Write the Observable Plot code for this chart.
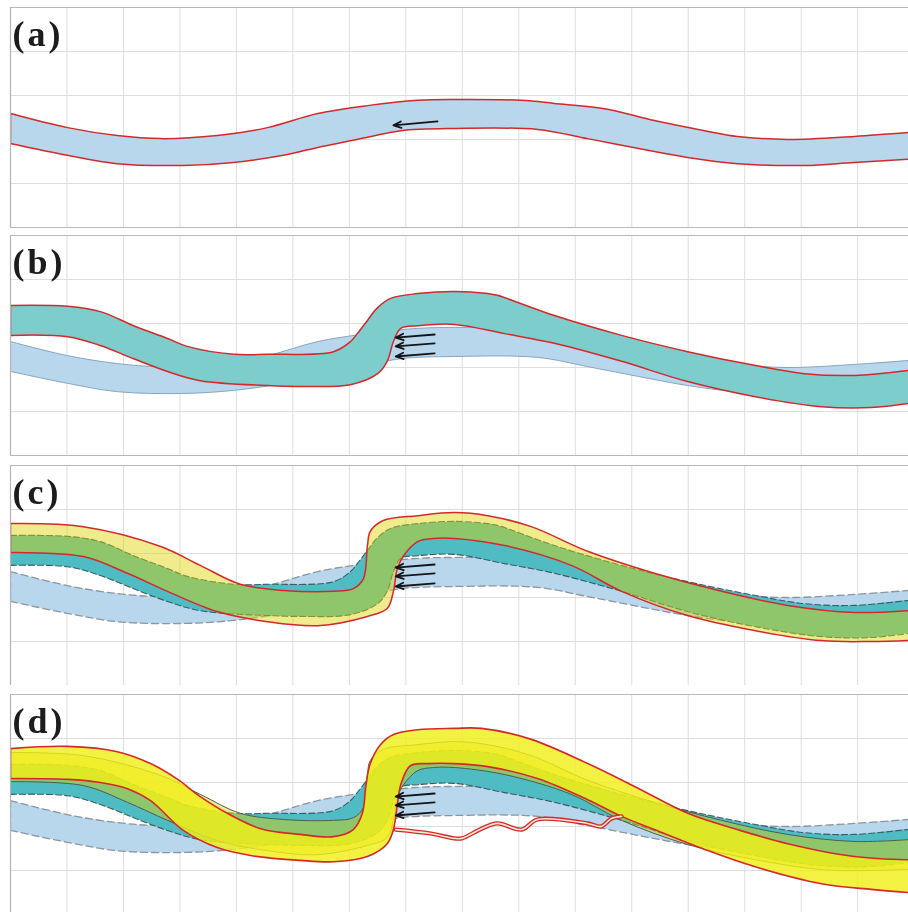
<!DOCTYPE html>
<html><head><meta charset="utf-8">
<script src="https://cdn.jsdelivr.net/npm/d3@7"></script>
<script src="https://cdn.jsdelivr.net/npm/@observablehq/plot@0.6"></script>
<style>
html,body{margin:0;padding:0;background:#fff;overflow:hidden;width:908px;height:912px}
#chart svg{display:block;max-width:none}
</style></head><body><div id="chart"></div>
<script>
// ---- data (grid units: x along channel, y downward from panel top) ----
const panelLabels = ["(a)", "(b)", "(c)", "(d)"];
const xGridTicks = [1,2,3,4,5,6,7,8,9,10,11,12,13,14,15];
const yGridTicks = [1,2,3,4];

// initial channel (a)
const bankA_top = [[0,2.41],[1.01,2.73],[1.89,2.91],[2.66,2.98],[3.66,2.91],[4.55,2.73],[5.44,2.41],[6.32,2.23],[7.21,2.11],[7.86,2.09],[9.05,2.11],[9.63,2.18],[10.52,2.30],[11.40,2.57],[12.29,2.80],[12.87,2.93],[13.76,3.00],[14.94,2.93],[16.0,2.83]];
const bankA_bottom = [[0,3.09],[1.01,3.36],[1.89,3.55],[3.06,3.59],[3.95,3.52],[4.83,3.36],[5.44,3.18],[6.32,2.95],[6.91,2.80],[7.86,2.75],[9.33,2.77],[10.22,2.98],[11.10,3.20],[11.99,3.41],[12.87,3.55],[14.06,3.59],[14.94,3.52],[16.0,3.44]];

// channel after stage (b)
const bankB_top = [[0,1.59],[1.01,1.61],[1.59,1.73],[2.18,2.05],[2.78,2.34],[3.13,2.52],[3.95,2.70],[4.55,2.70],[5.72,2.64],[6.02,2.41],[6.14,2.23],[6.32,1.93],[6.50,1.64],[6.73,1.43],[7.21,1.32],[7.86,1.27],[8.45,1.32],[8.62,1.36],[9.63,1.82],[10.82,2.27],[11.99,2.64],[13.17,2.95],[14.06,3.14],[14.94,3.18],[16.0,3.05]];
const bankB_bottom = [[0,2.27],[1.01,2.30],[1.59,2.50],[2.18,2.80],[2.78,3.09],[3.36,3.30],[4.55,3.41],[5.13,3.43],[6.02,3.39],[6.50,3.14],[6.67,2.86],[6.78,2.41],[6.91,2.11],[7.21,2.05],[7.86,2.02],[8.75,2.23],[9.63,2.45],[10.82,2.86],[11.99,3.32],[13.17,3.66],[14.36,3.89],[15.24,3.91],[16.0,3.80]];

// channel after stage (c)
const bankC_top = [[0,1.32],[1.29,1.39],[2.66,1.84],[3.36,2.27],[4.07,2.70],[4.83,2.84],[5.72,2.86],[6.07,2.80],[6.25,2.57],[6.32,1.82],[6.37,1.50],[6.60,1.25],[7.21,1.14],[7.86,1.07],[8.45,1.14],[9.22,1.39],[10.22,1.95],[11.40,2.45],[12.59,2.86],[13.76,3.18],[14.94,3.34],[16.0,3.29]];
const bankC_bottom = [[0,1.98],[1.29,2.07],[2.07,2.45],[2.78,2.86],[3.66,3.32],[4.55,3.55],[5.44,3.64],[6.32,3.43],[6.67,3.25],[6.78,2.86],[6.85,2.34],[6.96,2.05],[7.21,1.73],[7.49,1.66],[7.86,1.66],[8.75,1.82],[9.93,2.27],[10.82,2.86],[11.99,3.41],[13.17,3.75],[14.36,3.98],[15.24,4.00],[16.0,3.97]];

// channel after stage (d)
const bankD_top = [[0,1.23],[1.01,1.18],[1.89,1.30],[2.48,1.57],[2.96,1.93],[3.36,2.32],[3.84,2.70],[4.43,3.05],[5.13,3.18],[5.72,3.23],[6.07,3.07],[6.23,2.70],[6.29,2.09],[6.37,1.57],[6.55,1.14],[6.78,0.91],[7.21,0.80],[7.86,0.77],[8.34,0.77],[9.22,1.02],[10.22,1.57],[11.05,2.09],[11.99,2.70],[12.87,3.07],[13.76,3.39],[14.94,3.68],[16.0,3.76]];
const bankD_bottom = [[0,1.91],[1.01,1.93],[1.59,2.00],[2.07,2.14],[2.48,2.41],[3.06,3.09],[3.66,3.48],[4.25,3.66],[5.13,3.77],[5.72,3.80],[6.32,3.68],[6.67,3.39],[6.78,3.07],[6.85,2.50],[6.91,2.05],[7.08,1.62],[7.40,1.57],[7.86,1.57],[8.45,1.64],[9.33,1.91],[10.22,2.39],[10.82,2.77],[11.40,3.07],[12.29,3.52],[13.17,3.91],[14.36,4.30],[15.24,4.43],[16.0,4.51]];

// chute channel in (d)
const chute = [[6.82,3.07],[7.44,3.16],[7.86,3.27],[7.99,3.27],[8.34,3.05],[8.62,2.93],[9.05,3.07],[9.33,2.84],[10.22,2.93],[10.46,3.00],[10.64,2.82],[10.82,2.77]];

// flow arrows
const arrowTailX = 7.51, arrowHeadX = 6.82;
const arrowTailY = [2.25, 2.45, 2.68];
const arrowHeadY = [2.32, 2.52, 2.75];
const arrowA = [{x1: 7.56, y1: 2.59, x2: 6.78, y2: 2.68}];

// ---- helpers ----
const pts = a => a.map(([x, y]) => ({x, y}));
const RED = "#d3292b";
function bandFill(top, bottom, opts) {
  const tl = top[top.length - 1], bl = bottom[bottom.length - 1];
  const ring = [...top, [tl[0] + 1, tl[1]], [bl[0] + 1, bl[1]], ...bottom.slice().reverse()];
  return Plot.line(pts(ring),
    {x: "x", y: "y", curve: "catmull-rom", stroke: "none", clip: true, ...opts});
}
function bandEdges(top, bottom, opts) {
  const o = {x: "x", y: "y", fill: "none", clip: true, ...opts};
  return [
    Plot.line(pts(top), {...o, curve: "catmull-rom"}),
    Plot.line(pts(bottom), {...o, curve: "catmull-rom"}),
    Plot.line(pts([top[0], bottom[0]]), {...o, curve: "linear"})
  ];
}
function flowArrows(list) {
  return [
    Plot.arrow(list, {x1: "x1", y1: "y1", x2: "x2", y2: "y2", stroke: "#151515", strokeWidth: 1.8,
      headLength: 7, headAngle: 45})
  ];
}
const arrowList3 = arrowTailY.map((y, i) => ({x1: arrowTailX, y1: y, x2: arrowHeadX, y2: arrowHeadY[i]}));

const blueFill = "#b8d6ec";
const tealFill = "#4fbcc4";
const yellowC = "#ded300";
const yellowD = "#f0ef18";

const panels = [
  {h: 228, mt: 7, marks: [
    bandFill(bankA_top, bankA_bottom, {fill: blueFill}),
    ...bandEdges(bankA_top, bankA_bottom, {stroke: RED, strokeWidth: 1.5}),
    ...flowArrows(arrowA)
  ]},
  {h: 228, mt: 7, marks: [
    bandFill(bankA_top, bankA_bottom, {fill: blueFill}),
    ...bandEdges(bankA_top, bankA_bottom, {stroke: "#7f9fba", strokeWidth: 0.9}),
    bandFill(bankB_top, bankB_bottom, {fill: "#7dcdcd", mixBlendMode: "multiply"}),
    ...bandEdges(bankB_top, bankB_bottom, {stroke: RED, strokeWidth: 1.5}),
    ...flowArrows(arrowList3)
  ]},
  {h: 229, mt: 9, marks: [
    bandFill(bankA_top, bankA_bottom, {fill: blueFill}),
    ...bandEdges(bankA_top, bankA_bottom, {stroke: "#8d969d", strokeWidth: 1.3, strokeDasharray: "7,4"}),
    bandFill(bankB_top, bankB_bottom, {fill: tealFill}),
    ...bandEdges(bankB_top, bankB_bottom, {stroke: "#3f5a60", strokeWidth: 1.1, strokeDasharray: "6,3"}),
    bandFill(bankC_top, bankC_bottom, {fill: yellowC, fillOpacity: 0.45}),
    ...bandEdges(bankC_top, bankC_bottom, {stroke: RED, strokeWidth: 1.5}),
    ...flowArrows(arrowList3)
  ]},
  {h: 230, mt: 9, marks: [
    bandFill(bankA_top, bankA_bottom, {fill: blueFill}),
    ...bandEdges(bankA_top, bankA_bottom, {stroke: "#8d969d", strokeWidth: 1.3, strokeDasharray: "7,4"}),
    bandFill(bankB_top, bankB_bottom, {fill: tealFill}),
    ...bandEdges(bankB_top, bankB_bottom, {stroke: "#3f5a60", strokeWidth: 1.1, strokeDasharray: "6,3"}),
    bandFill(bankC_top, bankC_bottom, {fill: yellowC, fillOpacity: 0.45}),
    ...bandEdges(bankC_top, bankC_bottom, {stroke: "#4a5f50", strokeWidth: 1}),
    bandFill(bankD_top, bankD_bottom, {fill: yellowD, fillOpacity: 0.82}),
    ...bandEdges(bankD_top, bankD_bottom, {stroke: RED, strokeWidth: 1.6}),
    Plot.line(pts(chute), {x: "x", y: "y", curve: "catmull-rom", stroke: RED, strokeWidth: 4.2}),
    Plot.line(pts(chute), {x: "x", y: "y", curve: "catmull-rom", stroke: "#fbe6cf", strokeWidth: 1.6}),
    ...flowArrows(arrowList3)
  ]}
];

const root = document.getElementById("chart");
panels.forEach((p, i) => {
  const svg = Plot.plot({
    width: 908,
    height: p.h,
    marginLeft: 10, marginRight: 0, marginTop: p.mt, marginBottom: p.h - p.mt - 220,
    x: {domain: [0, 15.9], axis: null},
    y: {domain: [5, 0], axis: null},
    style: {background: "#fff", overflow: "hidden"},
    marks: [
      Plot.ruleX(xGridTicks, {stroke: "#dedede", strokeWidth: 1}),
      Plot.ruleY(yGridTicks, {stroke: "#dedede", strokeWidth: 1}),
      ...p.marks,
      Plot.ruleX([0], {stroke: "#b3b3b3", strokeWidth: 1.2}),
      Plot.ruleY([0, 5], {stroke: "#b8b8b8", strokeWidth: 1.2}),
      Plot.text([panelLabels[i]], {frameAnchor: "top-left", text: d => d, dx: 2, dy: 27, lineAnchor: "middle",
        fontSize: 36, fontWeight: "bold", fontFamily: "Liberation Serif", fill: "#1c1c1c"})
    ]
  });
  d3.select(svg).selectAll("text").attr("letter-spacing", "3px");
  root.appendChild(svg);
});
</script></body></html>
